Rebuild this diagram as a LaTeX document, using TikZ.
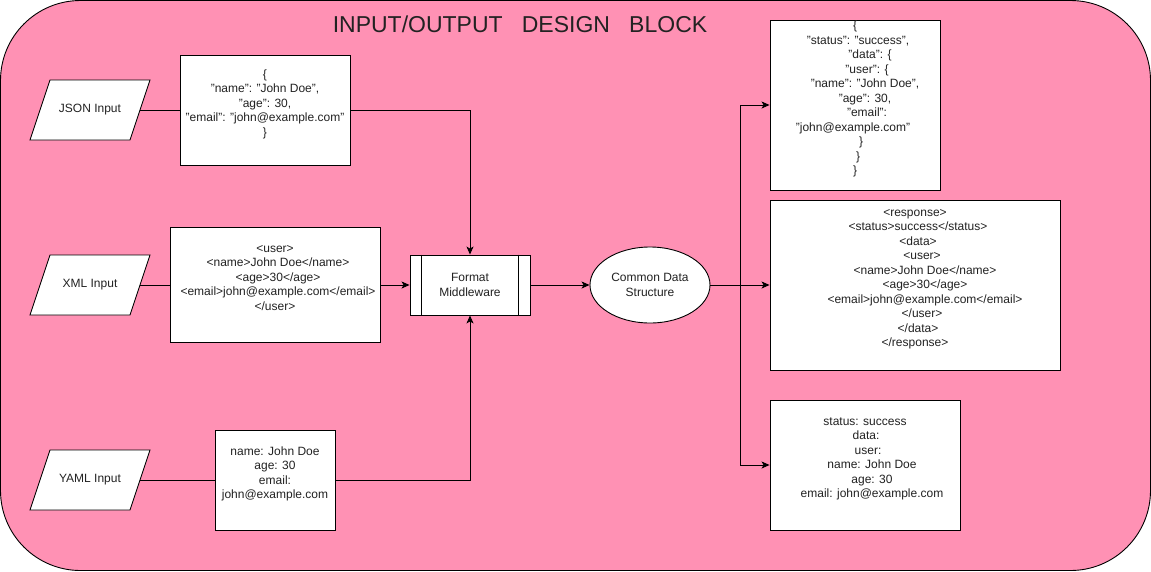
\documentclass[tikz,border=0pt]{standalone}
\usepackage{fontspec}
\setmainfont{Liberation Sans}
\usetikzlibrary{shapes.geometric,arrows.meta}
\definecolor{bgpink}{RGB}{255,145,180}
\definecolor{txtgray}{RGB}{34,34,34}
\newcommand\pushr[2]{\mbox{\kern#1pt\relax #2\kern-#1pt}}

\begin{document}
\begin{tikzpicture}[x=1pt,y=-1pt,line width=0.9pt,
  every node/.style={font=\fontsize{12}{14.5}\selectfont,text=txtgray},
  datbox/.style={draw,fill=white,align=center,inner sep=0pt},
  inshape/.style={minimum width=100pt,minimum height=60pt,inner sep=0pt},
  flow/.style={-{Stealth[length=8pt,width=7pt,inset=2pt]}}]
\useasboundingbox (0,0) rectangle (1151,571);
\draw[fill=bgpink,rounded corners=80pt] (0.5,0.5) rectangle (1150.5,570.5);
\node[anchor=base,font=\fontsize{23}{26}\selectfont] (title) at (520,32.5) {INPUT/OUTPUT\ \ \ DESIGN\ \ \ BLOCK};

\draw[fill=white] (30,140) -- (130,140) -- (150,80) -- (50,80) -- cycle;
\node[inshape] (jsonin) at (90,110) {JSON Input};
\draw[fill=white] (30,315) -- (130,315) -- (150,255) -- (50,255) -- cycle;
\node[inshape] (xmlin) at (90,285) {XML Input};
\draw[fill=white] (30,510) -- (130,510) -- (150,450) -- (50,450) -- cycle;
\node[inshape] (yamlin) at (90,480) {YAML Input};

\node[datbox,minimum width=170pt,minimum height=110pt] (jsonbox) at (265,110)
  {\{\\"name": "John Doe",\\"age": 30,\\"email": "john@example.com"\\\}\\\mbox{}};
\node[datbox,minimum width=210pt,minimum height=115pt] (xmlbox) at (275,285)
  {<user>\\\pushr{3}{<name>John Doe</name>}\\\pushr{3}{<age>30</age>}\\\pushr{3}{<email>john@example.com</email>}\\</user>\\\mbox{}};
\node[datbox,minimum width=120pt,minimum height=100pt] (yamlbox) at (275,480)
  {name: John Doe\\age: 30\\email:\\john@example.com\\\mbox{}};

\node[draw,fill=white,minimum width=120pt,minimum height=60pt,align=center,inner sep=0pt] (mw) at (470,285) {Format\\Middleware};
\draw ([xshift=12pt]mw.north west) -- ([xshift=12pt]mw.south west);
\draw ([xshift=-12pt]mw.north east) -- ([xshift=-12pt]mw.south east);

\node[draw,fill=white,ellipse,minimum width=120pt,minimum height=76pt,align=center,inner sep=0pt] (cds) at (650,285) {Common Data\\Structure};

\node[datbox,minimum width=170pt,minimum height=170pt] (jsonout) at (855,105)
  {\{\\\pushr{3}{"status": "success",}\\\pushr{15}{"data": \{}\\\pushr{12}{"user": \{}\\\pushr{10}{"name": "John Doe",}\\\pushr{10}{"age": 30,}\\\pushr{12}{"email":}\\\pushr{-2}{"john@example.com"}\\\pushr{6}{\}}\\\pushr{3}{\}}\\\}\\\mbox{}};
\node[datbox,minimum width=290pt,minimum height=170pt] (xmlout) at (915,285)
  {<response>\\\pushr{3}{<status>success</status>}\\\pushr{3}{<data>}\\\pushr{7}{<user>}\\\pushr{10}{<name>John Doe</name>}\\\pushr{10}{<age>30</age>}\\\pushr{10}{<email>john@example.com</email>}\\\pushr{7}{</user>}\\\pushr{3}{</data>}\\</response>\\\mbox{}};
\node[datbox,minimum width=190pt,minimum height=130pt] (yamlout) at (865,465)
  {status: success\\\pushr{1}{data:}\\\pushr{3}{user:}\\\pushr{7}{name: John Doe}\\\pushr{7}{age: 30}\\\pushr{7}{email: john@example.com}\\\mbox{}};

\draw (jsonin.east) -- (jsonbox.west);
\draw[flow] (jsonbox.east) -| (mw.north);
\draw (xmlin.east) -- (xmlbox.west);
\draw[flow] (xmlbox.east) -- (mw.west);
\draw (yamlin.east) -- (yamlbox.west);
\draw[flow] (yamlbox.east) -| (mw.south);
\draw[flow] (mw.east) -- (cds.west);

\coordinate (split) at (740,285);
\draw (cds.east) -- (split);
\draw[flow] (split) |- (jsonout.west);
\draw[flow] (split) -- (xmlout.west);
\draw[flow] (split) |- (yamlout.west);
\end{tikzpicture}
\end{document}
